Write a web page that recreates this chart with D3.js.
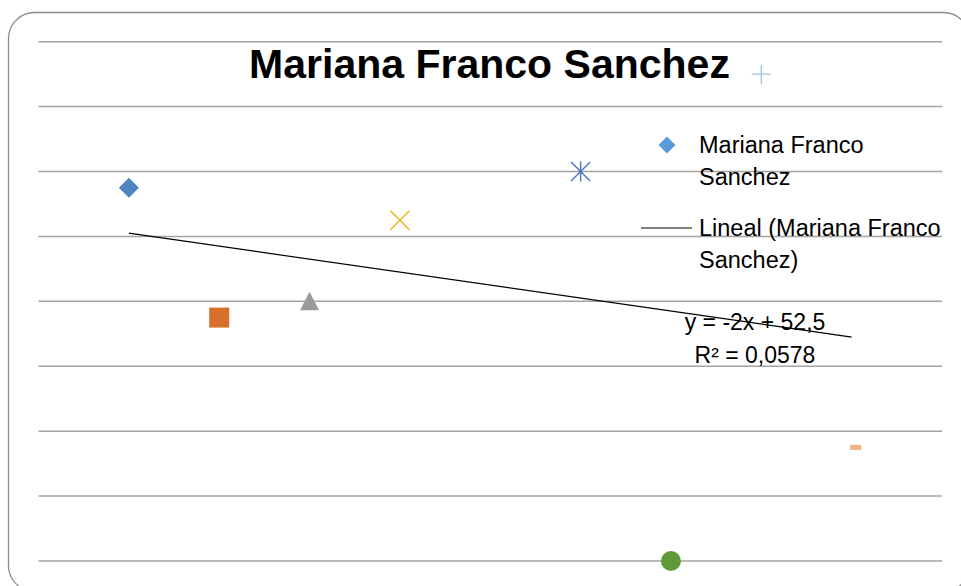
<!DOCTYPE html>
<html>
<head>
<meta charset="utf-8">
<script src="https://d3js.org/d3.v7.min.js"></script>
<style>
  html, body { margin: 0; padding: 0; background: #fff; }
  svg { display: block; font-family: "Liberation Sans", Arial, sans-serif; }
</style>
</head>
<body>
<div id="chart"></div>
<script>
// values
const xValues = [1, 2, 3, 4, 6, 7, 8, 9];
const yValues = [57.5, 37.5, 40, 52.5, 60, 0, 75, 17.5];
const markerTypes = ["diamond", "square", "triangle", "x", "star", "circle", "plus", "dash"];
const markerColors = ["#4e86c2", "#d8702b", "#9a9a9a", "#f2b320", "#4a72c3", "#5f9a3b", "#9dc3e6", "#f4b183"];
const yTicks = [0, 10, 20, 30, 40, 50, 60, 70, 80];
const trendSlope = -2;
const trendIntercept = 52.5;
const trendLabel = ["y = -2x + 52,5", "R² = 0,0578"];
const seriesName = "Mariana Franco Sanchez";
const legendLabels = [["Mariana Franco", "Sanchez"], ["Lineal (Mariana Franco", "Sanchez)"]];

const width = 961, height = 586;

const svg = d3.select("#chart").append("svg")
  .attr("width", width)
  .attr("height", height);

// chart border
svg.append("rect")
  .attr("x", 8.5).attr("y", 12.5)
  .attr("width", 961).attr("height", 579)
  .attr("rx", 26).attr("ry", 26)
  .attr("fill", "#fff")
  .attr("stroke", "#8c8c8c")
  .attr("stroke-width", 1.3);

const x = d3.scaleLinear().domain([0, 10]).range([38.5, 942]);
const y = d3.scaleLinear().domain([0, 80]).range([561, 41.7]);

// gridlines
svg.append("g").selectAll("line")
  .data(yTicks)
  .join("line")
  .attr("x1", x(0)).attr("x2", x(10))
  .attr("y1", d => y(d)).attr("y2", d => y(d))
  .attr("stroke", "#a3a3a3")
  .attr("stroke-width", 1.5);

// title
svg.append("text")
  .attr("x", 489.5).attr("y", 78)
  .attr("text-anchor", "middle")
  .attr("font-size", 41)
  .attr("font-weight", "bold")
  .attr("fill", "#000")
  .text(seriesName);

// marker drawing
function drawMarker(g, type, color) {
  if (type == "diamond") {
    g.append("path").attr("d", "M0,-10L10,0L0,10L-10,0Z").attr("fill", color);
  } else if (type == "square") {
    g.append("rect").attr("x", -10).attr("y", -10).attr("width", 20).attr("height", 20).attr("fill", color);
  } else if (type == "triangle") {
    g.append("path").attr("d", "M0,-9.5L9.5,9L-9.5,9Z").attr("fill", color);
  } else if (type == "x") {
    g.append("path").attr("d", "M-9.5,-9.5L9.5,9.5M-9.5,9.5L9.5,-9.5").attr("stroke", color).attr("stroke-width", 1.4);
  } else if (type == "star") {
    g.append("path").attr("d", "M-9.5,-9.5L9.5,9.5M-9.5,9.5L9.5,-9.5M0,-10L0,10").attr("stroke", color).attr("stroke-width", 1.4);
  } else if (type == "circle") {
    g.append("circle").attr("r", 10).attr("fill", color);
  } else if (type == "plus") {
    g.append("path").attr("d", "M-9.5,0L9.5,0M0,-9.5L0,9.5").attr("stroke", color).attr("stroke-width", 1.3);
  } else if (type == "dash") {
    // excel draws the dash marker a little right of the point
    g.append("rect").attr("x", -1.5).attr("y", -2.5).attr("width", 11).attr("height", 5).attr("fill", color);
  }
}

const points = svg.append("g").selectAll("g")
  .data(xValues.map((d, i) => ({ x: d, y: yValues[i], type: markerTypes[i], color: markerColors[i] })))
  .join("g")
  .attr("transform", d => `translate(${x(d.x)},${y(d.y)})`);
points.each(function(d) { drawMarker(d3.select(this), d.type, d.color); });

// linear trendline
const tx0 = d3.min(xValues), tx1 = d3.max(xValues);
svg.append("line")
  .attr("x1", x(tx0)).attr("y1", y(trendSlope * tx0 + trendIntercept))
  .attr("x2", x(tx1)).attr("y2", y(trendSlope * tx1 + trendIntercept))
  .attr("stroke", "#000")
  .attr("stroke-width", 1.2);

// trendline equation
trendLabel.forEach(function(t, i) {
  svg.append("text")
    .attr("x", 755).attr("y", 330 + i * 33)
    .attr("text-anchor", "middle")
    .attr("font-size", 23)
    .attr("fill", "#000")
    .text(t);
});

// legend
const legend = svg.append("g");
legend.append("path")
  .attr("d", "M0,-8.5L8.5,0L0,8.5L-8.5,0Z")
  .attr("transform", "translate(667,145)")
  .attr("fill", "#5b9bd5");
legend.append("line")
  .attr("x1", 641).attr("x2", 692)
  .attr("y1", 228).attr("y2", 228)
  .attr("stroke", "#000").attr("stroke-width", 1.2);
legendLabels.forEach(function(lines, i) {
  lines.forEach(function(t, j) {
    legend.append("text")
      .attr("x", 699).attr("y", 153 + i * 83 + j * 32)
      .attr("font-size", 23.5)
      .attr("fill", "#000")
      .text(t);
  });
});
</script>
</body>
</html>
